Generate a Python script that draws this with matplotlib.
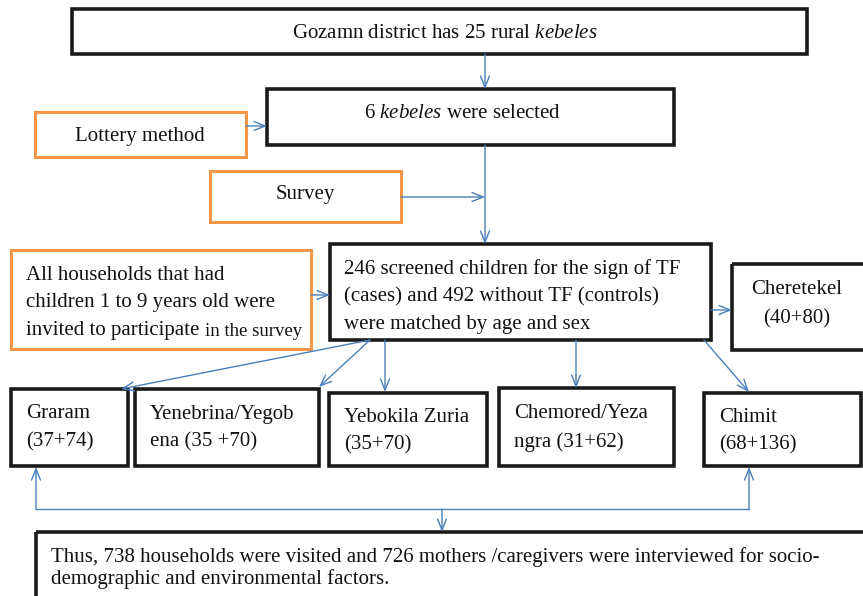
import matplotlib.pyplot as plt
from matplotlib.patches import Rectangle

plt.rcParams['font.family'] = 'Liberation Serif'
plt.rcParams['mathtext.fontset'] = 'custom'
plt.rcParams['mathtext.rm'] = 'Liberation Serif'
plt.rcParams['mathtext.it'] = 'Liberation Serif:italic'

# box texts
top_text = ['Gozamn district has 25 rural $\\it{kebeles}$']
selected_text = ['6 $\\it{kebeles}$ were selected']
lottery_text = ['Lottery method']
survey_text = ['Survey']
households_text = ['All households that had',
                   'children 1 to 9 years old were',
                   'invited to participate', 'in the survey']
screened_text = ['246 screened children for the sign of TF',
                 '(cases) and 492 without TF (controls)',
                 'were matched by age and sex']
kebele_names = ['Graram', 'Yenebrina/Yegob', 'Yebokila Zuria',
                'Chemored/Yeza', 'Chimit', 'Cheretekel']
kebele_second = ['(37+74)', 'ena (35 +70)', '(35+70)',
                 'ngra (31+62)', '(68+136)', '(40+80)']
final_text = ['Thus, 738 households were visited and 726 mothers /caregivers were interviewed for socio-',
              'demographic and environmental factors.']

BLACK = '#1a1a1a'
ORANGE = '#F79646'
BLUE = '#4A7EBB'

fig = plt.figure(figsize=(8.63, 5.96), dpi=100)
ax = fig.add_axes([0, 0, 1, 1])
ax.set_xlim(0, 863)
ax.set_ylim(596, 0)
ax.axis('off')


def box(x0, y0, x1, y1, color=BLACK, lw=2.6):
    ax.add_patch(Rectangle((x0, y0), x1 - x0, y1 - y0, fill=False,
                           edgecolor=color, lw=lw, joinstyle='miter'))


def lines(x, y, dy, texts, ha='left', size=15):
    # small shift so the glyphs sit where the reference has them
    for i, t in enumerate(texts):
        ax.text(x, y + 3 + i * dy, t, ha=ha, va='center', fontsize=size, color='#111111')


def arrow(x0, y0, x1, y1):
    ax.annotate('', xy=(x1, y1), xytext=(x0, y0),
                arrowprops=dict(arrowstyle='->,head_length=0.8,head_width=0.32',
                                color=BLUE, lw=1.0, shrinkA=0, shrinkB=0))


# top part
box(72, 9, 807, 54)
lines(445, 30, 0, top_text, ha='center')
arrow(485, 54, 485, 89)

box(267, 89, 674, 145)
lines(463, 111, 0, selected_text, ha='center')

box(35, 112, 246, 157, ORANGE, 2.2)
lines(140, 133, 0, lottery_text, ha='center')
arrow(246, 126, 267, 126)

box(210, 171, 401, 222, ORANGE, 2.2)
lines(305, 192, 0, survey_text, ha='center')
arrow(401, 197, 485, 197)
arrow(485, 145, 485, 244)

# middle part
box(11, 250, 311, 349, ORANGE, 2.2)
lines(26, 272, 28, households_text[:2])
t3 = ax.text(26, 331, households_text[2], ha='left', va='center', fontsize=15, color='#111111')
ax.annotate(households_text[3], xy=(1, 0), xycoords=t3, xytext=(4, 0),
            textcoords='offset points', ha='left', va='bottom',
            fontsize=13.5, color='#111111')
arrow(311, 295, 330, 295)

box(330, 244, 711, 340)
lines(344, 266, 28, screened_text)

box(732, 264, 880, 350)
lines(797, 287, 29, [kebele_names[5], kebele_second[5]], ha='center')
arrow(711, 310, 732, 310)

# bottom row kebeles
row_boxes = [(11, 389, 128, 466), (135, 389, 319, 466), (329, 393, 487, 466),
             (499, 388, 674, 466), (704, 393, 861, 466)]
row_text_y = [411, 411, 414, 411, 414]
for (x0, y0, x1, y1), ty, n, s in zip(row_boxes, row_text_y, kebele_names[:5], kebele_second[:5]):
    box(x0, y0, x1, y1)
    lines(x0 + 15, ty, 28, [n, s])

arrow(370, 340, 121, 389)
arrow(370, 340, 319, 387)
arrow(385, 340, 385, 392)
arrow(576, 340, 576, 388)
arrow(704, 340, 749, 392)

# merge to final box
ax.plot([36, 749], [509, 509], color=BLUE, lw=1.0)
arrow(36, 509, 36, 467)
arrow(749, 509, 749, 467)
arrow(442, 509, 442, 532)

box(36, 532, 880, 620)
lines(51, 554, 22, final_text)

fig.savefig('out.png', dpi=100)
